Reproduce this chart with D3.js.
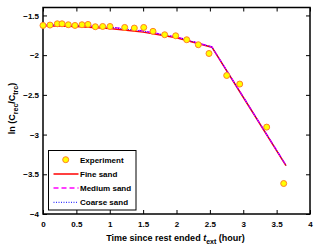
<!DOCTYPE html>
<html>
<head>
<meta charset="utf-8">
<script src="https://cdn.jsdelivr.net/npm/d3@7"></script>
<style>
  body { margin: 0; background: #fff; }
  text { font-family: "Liberation Sans", Arial, sans-serif; font-weight: bold; }
</style>
</head>
<body>
<div id="chart"></div>
<script>
var w = 320, h = 252;
var margin = { left: 43, right: 10, top: 7.5, bottom: 38 };

// experiment points
var expT = [0.0, 0.105, 0.214, 0.285, 0.379, 0.479, 0.584, 0.674, 0.784, 0.894, 1.004,
  1.224, 1.368, 1.509, 1.648, 1.823, 1.988, 2.153, 2.327, 2.487, 2.752, 2.947, 3.351, 3.606];
var expV = [-1.626, -1.621, -1.605, -1.605, -1.617, -1.626, -1.617, -1.613, -1.642, -1.639, -1.639,
  -1.651, -1.659, -1.651, -1.70, -1.743, -1.756, -1.806, -1.869, -1.979, -2.256, -2.364, -2.906, -3.616];

// model curves
var modelT = [0, 0.5, 1, 1.5, 2, 2.53, 3.0, 3.64];
var fineV = [-1.63, -1.64, -1.665, -1.71, -1.78, -1.90, -2.53, -3.39];
var mediumV = [-1.62, -1.625, -1.645, -1.695, -1.77, -1.895, -2.525, -3.385];
var coarseV = [-1.62, -1.627, -1.648, -1.698, -1.772, -1.897, -2.527, -3.387];

var xTicks = [0, 0.5, 1, 1.5, 2, 2.5, 3, 3.5, 4];
var yTicks = [-4, -3.5, -3, -2.5, -2, -1.5];
var legendNames = ["Experiment", "Fine sand", "Medium sand", "Coarse sand"];

var svg = d3.select("#chart").append("svg").attr("width", w).attr("height", h);

var x = d3.scaleLinear().domain([0, 4]).range([margin.left, w - margin.right]);
var y = d3.scaleLinear().domain([-4, -1.4]).range([h - margin.bottom, margin.top]);

var fmt = function (d) { return d3.format("")(d); };

// axes, MATLAB style: ticks inside on all four sides
svg.append("g").attr("transform", "translate(0," + y(-4) + ")")
  .call(d3.axisBottom(x).tickValues(xTicks).tickSizeInner(-4).tickSizeOuter(0).tickPadding(7).tickFormat(fmt))
  .call(function (g) { g.select(".domain").remove(); g.selectAll("text").attr("font-size", 8).attr("font-family", null); });
svg.append("g").attr("transform", "translate(0," + y(-1.4) + ")")
  .call(d3.axisTop(x).tickValues(xTicks).tickSizeInner(-4).tickSizeOuter(0).tickFormat(""))
  .call(function (g) { g.select(".domain").remove(); });
svg.append("g").attr("transform", "translate(" + x(0) + ",0)")
  .call(d3.axisLeft(y).tickValues(yTicks).tickSizeInner(-4).tickSizeOuter(0).tickPadding(4).tickFormat(fmt))
  .call(function (g) { g.select(".domain").remove(); g.selectAll("text").attr("font-size", 8).attr("font-family", null); });
svg.append("g").attr("transform", "translate(" + x(4) + ",0)")
  .call(d3.axisRight(y).tickValues(yTicks).tickSizeInner(-4).tickSizeOuter(0).tickFormat(""))
  .call(function (g) { g.select(".domain").remove(); });

svg.selectAll(".tick line").attr("stroke", "#000").attr("stroke-width", 1);

svg.append("rect")
  .attr("x", x(0)).attr("y", y(-1.4))
  .attr("width", x(4) - x(0)).attr("height", y(-4) - y(-1.4))
  .attr("fill", "none").attr("stroke", "#000").attr("stroke-width", 1.5);

var line = function (vals) {
  return d3.line().x(function (d, i) { return x(modelT[i]); }).y(function (d) { return y(d); })(vals);
};

svg.append("path").attr("d", line(fineV)).attr("fill", "none")
  .attr("stroke", "#ff0000").attr("stroke-width", 1.5);
svg.append("path").attr("d", line(mediumV)).attr("fill", "none")
  .attr("stroke", "#ff00ff").attr("stroke-width", 1.3).attr("stroke-dasharray", "5,3");
svg.append("path").attr("d", line(coarseV)).attr("fill", "none")
  .attr("stroke", "#0000ff").attr("stroke-width", 1).attr("stroke-dasharray", "1,1.5");

svg.selectAll("circle.exp").data(expT).enter().append("circle")
  .attr("class", "exp")
  .attr("cx", function (d) { return x(d); })
  .attr("cy", function (d, i) { return y(expV[i]); })
  .attr("r", 3)
  .attr("fill", "#ffff00").attr("stroke", "#ff7f27").attr("stroke-width", 1);

// legend
var lg = svg.append("g").attr("transform", "translate(48.5,150.5)");
lg.append("rect").attr("width", 87.5).attr("height", 59.5)
  .attr("fill", "#fff").attr("stroke", "#000").attr("stroke-width", 1);
var rowY = [9.2, 23.5, 37.5, 51.8];
lg.append("circle").attr("cx", 17.2).attr("cy", rowY[0]).attr("r", 3)
  .attr("fill", "#ffff00").attr("stroke", "#ff7f27").attr("stroke-width", 1);
lg.append("line").attr("x1", 5).attr("x2", 30).attr("y1", rowY[1]).attr("y2", rowY[1])
  .attr("stroke", "#ff0000").attr("stroke-width", 1.5);
lg.append("line").attr("x1", 5).attr("x2", 30).attr("y1", rowY[2]).attr("y2", rowY[2])
  .attr("stroke", "#ff00ff").attr("stroke-width", 1.3).attr("stroke-dasharray", "5,3");
lg.append("line").attr("x1", 5).attr("x2", 30).attr("y1", rowY[3]).attr("y2", rowY[3])
  .attr("stroke", "#0000ff").attr("stroke-width", 1).attr("stroke-dasharray", "1,1.5");
lg.selectAll("text.lbl").data(legendNames).enter().append("text")
  .attr("class", "lbl")
  .attr("x", 31.5).attr("y", function (d, i) { return rowY[i] + 3; })
  .attr("font-size", 8).text(function (d) { return d; });

// x label
var xl = svg.append("text").attr("x", 175.5).attr("y", 240.5).attr("text-anchor", "middle").attr("font-size", 9);
xl.append("tspan").text("Time since rest ended ");
xl.append("tspan").attr("font-style", "italic").text("t");
xl.append("tspan").attr("font-size", 7).attr("dy", 3).text("ext");
xl.append("tspan").attr("dy", -3).text(" (hour)");

// y label
var yl = svg.append("text").attr("transform", "translate(15,108.5) rotate(-90)")
  .attr("text-anchor", "middle").attr("font-size", 9);
yl.append("tspan").text("ln (C");
yl.append("tspan").attr("font-size", 7).attr("dy", 3).text("rec");
yl.append("tspan").attr("dy", -3).text("/C");
yl.append("tspan").attr("font-size", 7).attr("dy", 3).text("trc");
yl.append("tspan").attr("dy", -3).text(")");
</script>
</body>
</html>
